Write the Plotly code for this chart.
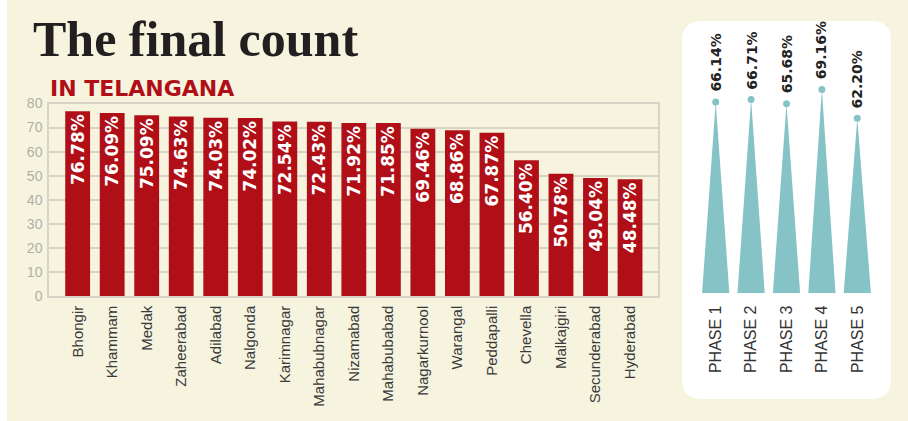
import plotly.graph_objects as go

# ---------------- data ----------------
constituencies = ["Bhongir", "Khammam", "Medak", "Zaheerabad", "Adilabad", "Nalgonda",
                  "Karimnagar", "Mahabubnagar", "Nizamabad", "Mahabubabad", "Nagarkurnool",
                  "Warangal", "Peddapalli", "Chevella", "Malkajgiri", "Secunderabad", "Hyderabad"]
turnout = [76.78, 76.09, 75.09, 74.63, 74.03, 74.02, 72.54, 72.43, 71.92, 71.85, 69.46,
           68.86, 67.87, 56.40, 50.78, 49.04, 48.48]
y_ticks = [0, 10, 20, 30, 40, 50, 60, 70, 80]

phases = ["PHASE 1", "PHASE 2", "PHASE 3", "PHASE 4", "PHASE 5"]
phase_turnout = [66.14, 66.71, 65.68, 69.16, 62.20]

title_text = "The final count"
subtitle_text = "IN TELANGANA"

# ---------------- style ----------------
W, H = 908, 421
CREAM = "#f6f4df"
RED = "#b00f18"
TEAL = "#86c3c7"
GRID = "#d6d4c4"

def px_x(p):
    return p / W

def px_y(p):
    return 1 - p / H

fig = go.Figure()

# main bars
fig.add_trace(go.Bar(
    x=list(range(len(constituencies))), y=turnout,
    marker=dict(color=RED, line=dict(width=0)),
    width=0.72,
    text=[f"{v:.2f}%" for v in turnout],
    textposition="inside", insidetextanchor="end", textangle=-90,
    textfont=dict(family="DejaVu Sans", size=17, color="white", weight="bold"),
    constraintext="none",
    hoverinfo="skip", xaxis="x", yaxis="y",
))

# phase triangles
BASE = 19.8
HALF = 0.385
for i, v in enumerate(phase_turnout):
    fig.add_trace(go.Scatter(
        x=[i - HALF, i, i + HALF, i - HALF], y=[BASE, v, BASE, BASE],
        mode="lines", fill="toself", fillcolor=TEAL,
        line=dict(width=0, color=TEAL), hoverinfo="skip",
        xaxis="x2", yaxis="y2", showlegend=False,
    ))
fig.add_trace(go.Scatter(
    x=list(range(len(phases))), y=phase_turnout, mode="markers",
    marker=dict(color=TEAL, size=7, line=dict(width=0)), xaxis="x2", yaxis="y2",
    hoverinfo="skip", showlegend=False, cliponaxis=False,
))

annotations = []
for i, v in enumerate(phase_turnout):
    annotations.append(dict(
        x=i, y=v, xref="x2", yref="y2", text=f"{v:.2f}%", showarrow=False,
        textangle=-90, xanchor="center", yanchor="bottom", yshift=8,
        font=dict(family="DejaVu Sans", size=14, color="#222222", weight="bold"),
    ))

annotations.append(dict(
    x=px_x(31), y=px_y(9), xref="paper", yref="paper", xanchor="left", yanchor="top",
    text=title_text, showarrow=False,
    font=dict(family="Liberation Serif", size=50, color="#231f20", weight="bold"),
))
annotations.append(dict(
    x=px_x(48), y=px_y(74), xref="paper", yref="paper", xanchor="left", yanchor="top",
    text=subtitle_text, showarrow=False,
    font=dict(family="DejaVu Sans", size=22, color=RED, weight="bold"),
))

# rounded white panel
x0, x1 = px_x(682), px_x(891)
y0, y1 = px_y(399), px_y(21)
rx, ry = 20 / W, 20 / H
panel_path = (
    f"M {x0+rx},{y1} L {x1-rx},{y1} Q {x1},{y1} {x1},{y1-ry} "
    f"L {x1},{y0+ry} Q {x1},{y0} {x1-rx},{y0} "
    f"L {x0+rx},{y0} Q {x0},{y0} {x0},{y0+ry} "
    f"L {x0},{y1-ry} Q {x0},{y1} {x0+rx},{y1} Z"
)
shapes = [
    dict(type="rect", xref="paper", yref="paper", x0=0, x1=px_x(7), y0=0, y1=1,
         fillcolor="white", line=dict(width=0), layer="below"),
    dict(type="path", xref="paper", yref="paper", path=panel_path,
         fillcolor="white", line=dict(width=0), layer="below"),
]

fig.update_layout(
    template="none",
    width=W, height=H, autosize=False,
    margin=dict(l=0, r=0, t=0, b=0, pad=0, autoexpand=False),
    paper_bgcolor=CREAM, plot_bgcolor="rgba(0,0,0,0)",
    showlegend=False,
    xaxis=dict(
        domain=[px_x(49), px_x(658)], range=[-0.83, 16.81], automargin=False,
        tickvals=list(range(len(constituencies))), ticktext=constituencies,
        tickangle=-90, tickfont=dict(family="Liberation Sans", size=15, color="#3a3a3a"),
        showgrid=False, zeroline=False, showline=True, linecolor=GRID, linewidth=1.5,
        mirror=True, ticks="", ticklabelstandoff=2,
    ),
    yaxis=dict(
        domain=[px_y(296), px_y(103.5)], range=[0, 80], automargin=False,
        tickvals=y_ticks, tickfont=dict(family="Liberation Sans", size=14, color="#b0afa6"),
        showgrid=True, gridcolor=GRID, gridwidth=1.5, zeroline=False,
        showline=True, linecolor=GRID, linewidth=1.5, mirror=True, ticks="",
        ticklabelstandoff=2,
    ),
    xaxis2=dict(
        domain=[px_x(698), px_x(875)], range=[-0.5, 4.5], anchor="y2", automargin=False,
        tickvals=list(range(len(phases))), ticktext=phases, tickangle=-90,
        tickfont=dict(family="Liberation Sans", size=16, color="#333333"),
        showgrid=False, zeroline=False, showline=False, ticks="", ticklabelstandoff=8,
    ),
    yaxis2=dict(
        domain=[px_y(293.3), px_y(20)], range=[BASE, BASE + 273.3 / 4.13], anchor="x2",
        visible=False, automargin=False,
    ),
    annotations=annotations,
    shapes=shapes,
)

fig.write_html(
    "out.html",
    config={"displayModeBar": False, "responsive": False},
    post_script=(
        "document.body.style.margin='0';document.body.style.padding='0';"
        "document.body.style.background='" + CREAM + "';"
        "document.documentElement.style.background='" + CREAM + "';"
    ),
)
